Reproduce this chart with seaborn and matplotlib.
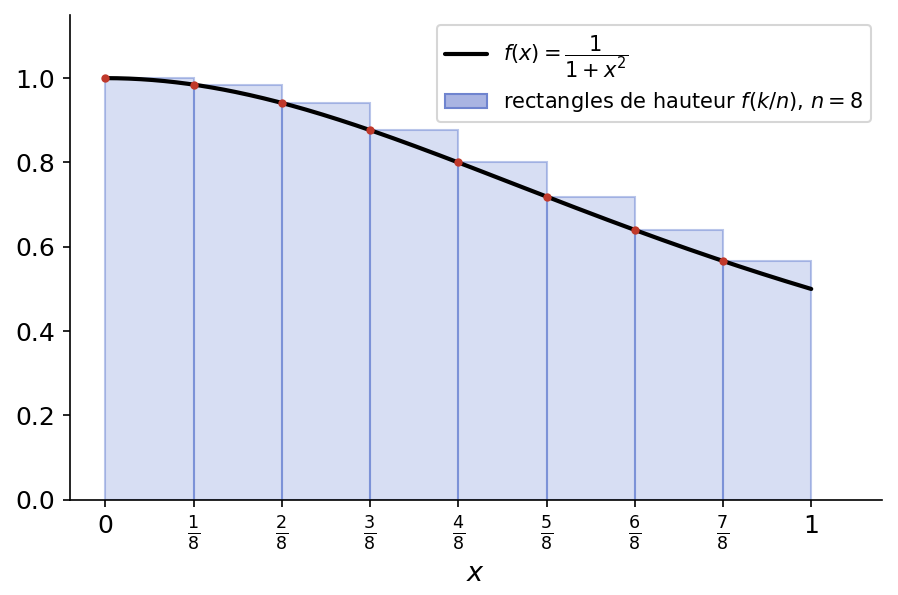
import numpy as np
import matplotlib
matplotlib.use("Agg")
import matplotlib.pyplot as plt
import seaborn as sns
import pandas as pd

sns.set_style("ticks")
plt.rcParams['font.family'] = ['DejaVu Sans']
for k in ['text.color', 'axes.labelcolor', 'xtick.color', 'ytick.color', 'axes.edgecolor']:
    plt.rcParams[k] = 'black'

n = 8
left_edges = [0, 1/8, 2/8, 3/8, 4/8, 5/8, 6/8, 7/8]
heights = [1.0, 0.9846, 0.9412, 0.8767, 0.8, 0.7191, 0.64, 0.5664]
tick_pos = [0, 1/8, 2/8, 3/8, 4/8, 5/8, 6/8, 7/8, 1]
tick_labels = ['0', r'$\frac{1}{8}$', r'$\frac{2}{8}$', r'$\frac{3}{8}$', r'$\frac{4}{8}$',
               r'$\frac{5}{8}$', r'$\frac{6}{8}$', r'$\frac{7}{8}$', '1']

xs = np.linspace(0, 1, 300)
curve = pd.DataFrame({'x': xs, 'y': 1 / (1 + xs**2)})

fig, ax = plt.subplots(figsize=(898/150, 595/150), dpi=150)
ax.bar(left_edges, heights, width=1/n, align='edge', color=(0.23, 0.36, 0.77, 0.2),
       edgecolor=(0.23, 0.36, 0.77, 0.35), linewidth=1)
sns.lineplot(data=curve, x='x', y='y', ax=ax, color='black', lw=2)
sns.scatterplot(x=left_edges, y=heights, ax=ax, color='#c0392b', s=16, zorder=5,
                linewidth=0)

from matplotlib.patches import Patch
from matplotlib.lines import Line2D
handles = [Line2D([], [], color='black', lw=2),
           Patch(facecolor='#a9b4e2', edgecolor='#6f84cf')]
labels = [r'$f(x) = \dfrac{1}{1+x^2}$', r'rectangles de hauteur $f(k/n)$, $n=8$']
ax.legend(handles, labels, loc='upper right', fontsize=10)

ax.set_xlim(-0.05, 1.1)
ax.set_ylim(0, 1.15)
ax.set_xticks(tick_pos)
ax.set_xticklabels(tick_labels, fontsize=12)
ax.set_yticks([0, 0.2, 0.4, 0.6, 0.8, 1.0])
ax.tick_params(axis='y', labelsize=12)
ax.set_xlabel(r'$x$', fontsize=13)
ax.set_ylabel('')
sns.despine(ax=ax)

fig.subplots_adjust(left=0.078, right=0.982, top=0.975, bottom=0.16)
fig.savefig('out.png', dpi=150)
